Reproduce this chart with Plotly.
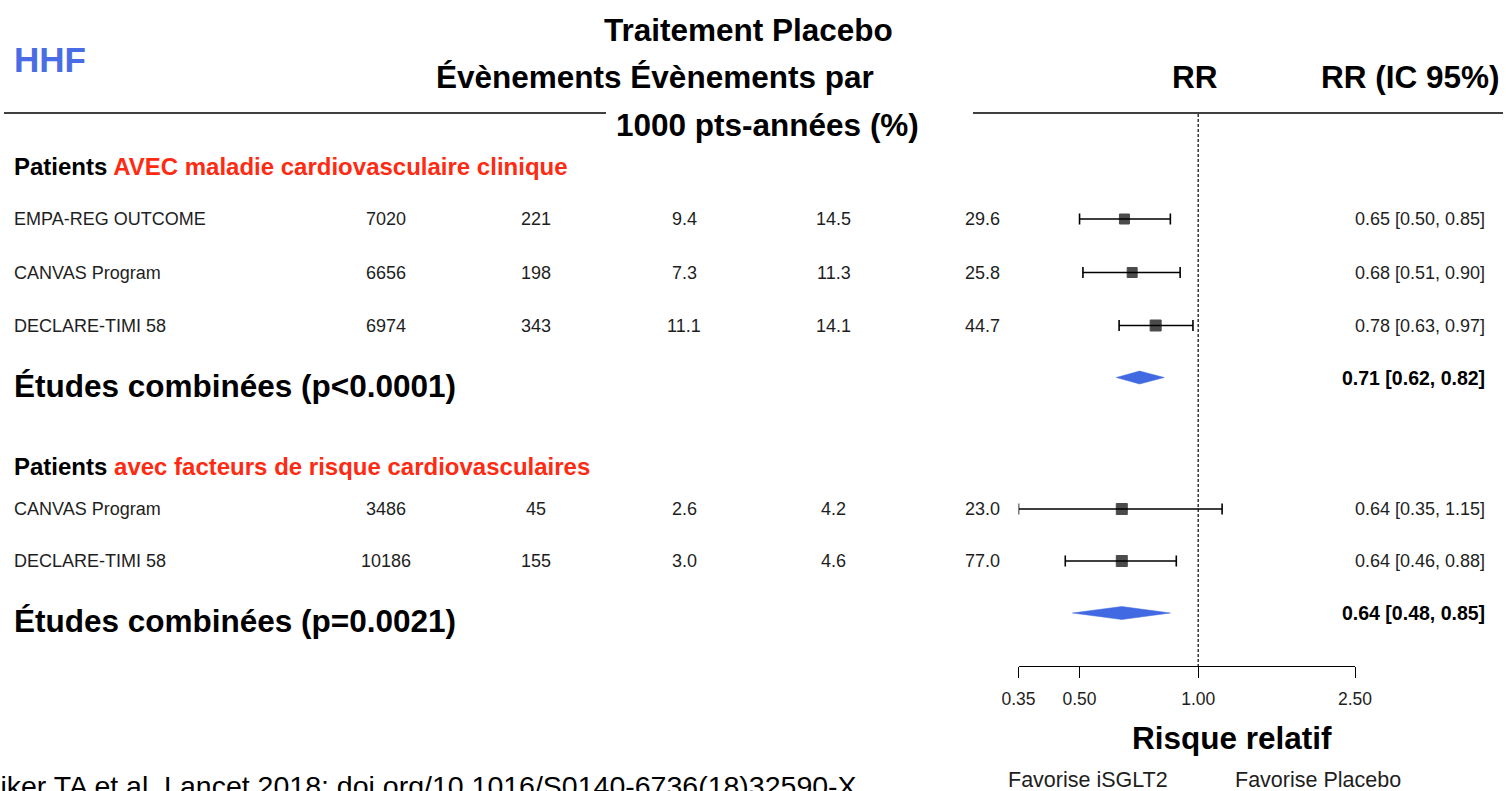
import math
import plotly.graph_objects as go

W, H = 1506, 791

# ---------------- data ----------------
group1_label = "AVEC maladie cardiovasculaire clinique"
group1_studies = ["EMPA-REG OUTCOME", "CANVAS Program", "DECLARE-TIMI 58"]
group1_n = [7020, 6656, 6974]
group1_events = [221, 198, 343]
group1_rate_trt = [9.4, 7.3, 11.1]
group1_rate_pbo = [14.5, 11.3, 14.1]
group1_weight = [29.6, 25.8, 44.7]
group1_rr = [0.65, 0.68, 0.78]
group1_lo = [0.50, 0.51, 0.63]
group1_hi = [0.85, 0.90, 0.97]
group1_pooled = [0.71, 0.62, 0.82]
group1_p = "p<0.0001"

group2_label = "avec facteurs de risque cardiovasculaires"
group2_studies = ["CANVAS Program", "DECLARE-TIMI 58"]
group2_n = [3486, 10186]
group2_events = [45, 155]
group2_rate_trt = [2.6, 3.0]
group2_rate_pbo = [4.2, 4.6]
group2_weight = [23.0, 77.0]
group2_rr = [0.64, 0.64]
group2_lo = [0.35, 0.46]
group2_hi = [1.15, 0.88]
group2_pooled = [0.64, 0.48, 0.85]
group2_p = "p=0.0021"

tick_vals = [0.35, 0.50, 1.00, 2.50]
tick_text = ["0.35", "0.50", "1.00", "2.50"]

# ---------------- layout geometry (pixels) ----------------
AXIS_Y = 666                 # bottom of the forest panel
X_LEFT, X_RIGHT = 1018.5, 1355.0   # pixel span of 0.35 .. 2.50
COL_X = [386, 536, 684, 834, 982]  # centres of the numeric columns
CI_X = 1487                  # right edge of the RR (IC 95%) column
LABEL_X = 12

group1_rows_y = [219, 272.5, 325.5]
group1_head_y = 166
group1_pool_y = 377.5
group1_comb_y = 386

group2_rows_y = [509, 561]
group2_head_y = 466
group2_pool_y = 613
group2_comb_y = 621

FONT = "Liberation Sans, Arial, Helvetica, sans-serif"
TXT = "#1e1e1e"
RED = "#ff2a12"
BLUE = "#4169e1"
SQ_SIZES_1 = [10, 10, 11]
SQ_SIZES_2 = [11, 11]

ROW_FS = 18
HEAD_FS = 31.5


def px(x):
    return x / W


def py(y):
    return 1 - y / H


annotations = []


def add_text(x, y, text, size, anchor="center", color=TXT, bold=False):
    if bold:
        text = "<b>" + text + "</b>"
    annotations.append(dict(
        x=px(x), y=py(y), xref="paper", yref="paper",
        text=text, showarrow=False, xanchor=anchor, yanchor="middle",
        font=dict(family=FONT, size=size, color=color),
    ))


fig = go.Figure()


def draw_group(studies, n, ev, rt, rp, wt, rr, lo, hi, pooled, pval,
               label, rows_y, head_y, pool_y, comb_y, sizes):
    add_text(LABEL_X, head_y,
             "Patients <span style='color:%s'>%s</span>" % (RED, label),
             24, "left", "#000000", bold=True)
    for i, name in enumerate(studies):
        y = rows_y[i]
        add_text(LABEL_X, y, name, ROW_FS, "left")
        add_text(COL_X[0], y, str(n[i]), ROW_FS)
        add_text(COL_X[1], y, str(ev[i]), ROW_FS)
        add_text(COL_X[2], y, "%.1f" % rt[i], ROW_FS)
        add_text(COL_X[3], y, "%.1f" % rp[i], ROW_FS)
        add_text(COL_X[4], y, "%.1f" % wt[i], ROW_FS)
        add_text(CI_X, y, "%.2f [%.2f, %.2f]" % (rr[i], lo[i], hi[i]),
                 ROW_FS, "right")
    fig.add_trace(go.Scatter(
        x=rr, y=rows_y, mode="markers", cliponaxis=False,
        marker=dict(symbol="square", size=sizes, color="#000000",
                    line=dict(color="#000000", width=1)),
        error_x=dict(type="data", symmetric=False,
                     array=[h - r for h, r in zip(hi, rr)],
                     arrayminus=[r - l for r, l in zip(rr, lo)],
                     color="#000000", thickness=1.6, width=5.5),
        hoverinfo="skip", showlegend=False,
    ))
    est, plo, phi = pooled
    fig.add_trace(go.Scatter(
        x=[plo, est, phi, est, plo],
        y=[pool_y, pool_y - 6.5, pool_y, pool_y + 6.5, pool_y],
        mode="lines", fill="toself", fillcolor=BLUE,
        line=dict(color=BLUE, width=0.5), hoverinfo="skip", showlegend=False,
    ))
    add_text(LABEL_X, comb_y, "Études combinées (%s)" % pval, HEAD_FS, "left",
             "#000000", bold=True)
    add_text(CI_X, pool_y, "%.2f [%.2f, %.2f]" % (est, plo, phi), 19.5,
             "right", "#000000", bold=True)


draw_group(group1_studies, group1_n, group1_events, group1_rate_trt,
           group1_rate_pbo, group1_weight, group1_rr, group1_lo, group1_hi,
           group1_pooled, group1_p, group1_label, group1_rows_y,
           group1_head_y, group1_pool_y, group1_comb_y, SQ_SIZES_1)
draw_group(group2_studies, group2_n, group2_events, group2_rate_trt,
           group2_rate_pbo, group2_weight, group2_rr, group2_lo, group2_hi,
           group2_pooled, group2_p, group2_label, group2_rows_y,
           group2_head_y, group2_pool_y, group2_comb_y, SQ_SIZES_2)

# reference line at RR = 1
fig.add_trace(go.Scatter(
    x=[1.0, 1.0], y=[114, AXIS_Y], mode="lines",
    line=dict(color="#000000", width=1.2, dash="3px,2px"),
    hoverinfo="skip", showlegend=False,
))

# header block
add_text(LABEL_X, 60, "HHF", 35, "left", "#4a6de6", bold=True)
add_text(748, 30, "Traitement Placebo", HEAD_FS, "center", "#000000", bold=True)
add_text(655, 77, "Évènements Évènements par", HEAD_FS, "center", "#000000", bold=True)
add_text(767, 125, "1000 pts-années (%)", HEAD_FS, "center", "#000000", bold=True)
add_text(1195, 77, "RR", HEAD_FS, "center", "#000000", bold=True)
add_text(1502, 77, "RR (IC 95%)", HEAD_FS, "right", "#000000", bold=True)

# axis caption and direction hints
add_text(1232, 738, "Risque relatif", HEAD_FS, "center", "#000000", bold=True)
add_text(1088, 780, "Favorise iSGLT2", 21.5, "center", TXT)
add_text(1318, 780, "Favorise Placebo", 21.5, "center", TXT)

# source line
add_text(-57, 786, "Zelniker TA et al. Lancet 2018; doi.org/10.1016/S0140-6736(18)32590-X",
         28.5, "left", "#000000")

shapes = [
    dict(type="line", xref="paper", yref="paper", x0=px(4), x1=px(606),
         y0=py(113), y1=py(113), line=dict(color="#000000", width=1.6)),
    dict(type="line", xref="paper", yref="paper", x0=px(973), x1=px(1503),
         y0=py(113), y1=py(113), line=dict(color="#000000", width=1.6)),
]

fig.update_layout(
    width=W, height=H,
    margin=dict(l=0, r=0, t=0, b=0, autoexpand=False),
    paper_bgcolor="white", plot_bgcolor="white",
    showlegend=False,
    annotations=annotations,
    shapes=shapes,
    xaxis=dict(
        type="log",
        domain=[px(X_LEFT), px(X_RIGHT)],
        range=[math.log10(tick_vals[0]), math.log10(tick_vals[-1])],
        tickvals=tick_vals, ticktext=tick_text,
        ticks="outside", ticklen=11, tickwidth=1.3, tickcolor="#000000",
        ticklabelstandoff=6,
        showline=True, linecolor="#000000", linewidth=1.3,
        showgrid=False, zeroline=False, fixedrange=True,
        tickfont=dict(family=FONT, size=17.5, color=TXT),
    ),
    yaxis=dict(
        domain=[py(AXIS_Y), 1.0],
        range=[AXIS_Y, 0],
        visible=False, showgrid=False, zeroline=False, fixedrange=True,
    ),
)

fig.write_html("out.html")
